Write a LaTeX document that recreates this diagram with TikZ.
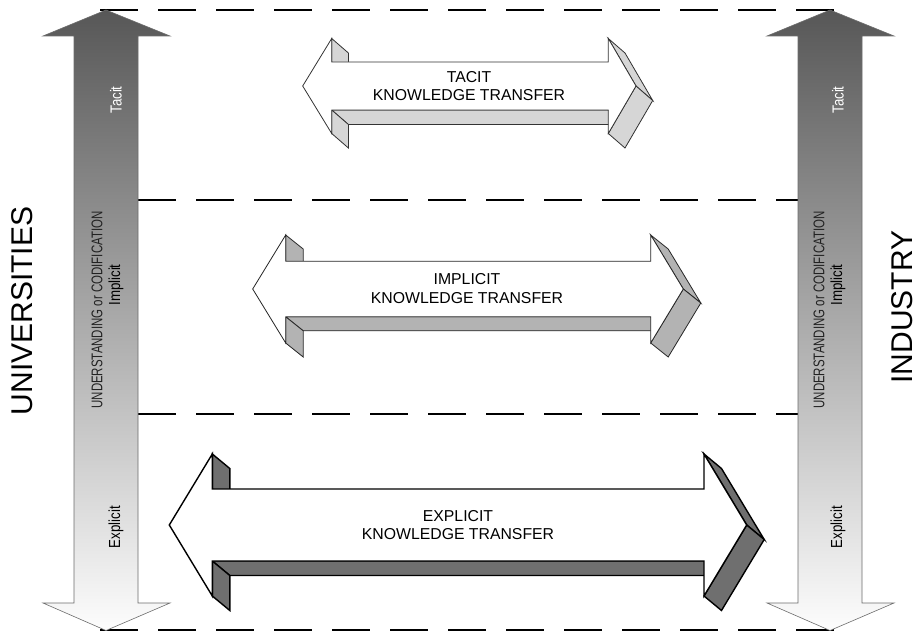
\documentclass[tikz,border=0pt]{standalone}
\usepackage{fontspec}
\setmainfont{Liberation Sans}
\newfontfamily\narrowfont[FakeStretch=0.83]{Liberation Sans}
\newfontfamily\narrowerfont[FakeStretch=0.74]{Liberation Sans}
\definecolor{gtop}{HTML}{575757}
\definecolor{gbot}{HTML}{FDFDFD}
\definecolor{tacitfill}{HTML}{D6D6D6}
\definecolor{implfill}{HTML}{B3B3B3}
\definecolor{explfill}{HTML}{6F6F6F}
\definecolor{understcol}{HTML}{222222}
\tikzset{
  sep/.style={draw=black, line width=1.3pt, dash pattern=on 38pt off 20pt},
  vertarrow/.style={draw=gray!85!black, line width=0.6pt, top color=gtop, bottom color=gbot},
  vlabel/.style={rotate=90, inner sep=0pt, font=\narrowfont\fontsize{16}{18}\selectfont},
  ulabel/.style={rotate=90, inner sep=0pt, font=\narrowerfont\fontsize{15.5}{18}\selectfont},
  biglabel/.style={rotate=90, inner sep=0pt, font=\fontsize{30}{34}\selectfont},
  hlabel/.style={align=center, inner sep=0pt, font=\fontsize{15.8}{18.5}\selectfont},
  face/.style={line join=miter},
}
% 3D double arrow: #1 xl, #2 xa, #3 xb, #4 xr, #5 cy, #6 H, #7 h, #8 dx, #9 dy
\newcommand{\threedarrow}[9]{%
  \draw[face] (#2,{#5+#7}) -- (#3,{#5+#7}) -- ({#3+#8},{#5+#7+#9}) -- ({#2+#8},{#5+#7+#9}) -- cycle;
  \draw[face] (#2,{#5-#6}) -- ({#2+#8},{#5-#6+#9}) -- ({#2+#8},{#5-#7+#9}) -- (#2,{#5-#7}) -- cycle;
  \draw[face] (#2,{#5+#7}) -- ({#2+#8},{#5+#7+#9}) -- ({#2+#8},{#5+#6+#9}) -- (#2,{#5+#6}) -- cycle;
  \draw[face] (#3,{#5-#6}) -- ({#3+#8},{#5-#6+#9}) -- ({#4+#8},{#5+#9}) -- (#4,#5) -- cycle;
  \draw[face] (#4,#5) -- ({#4+#8},{#5+#9}) -- ({#3+#8},{#5+#6+#9}) -- (#3,{#5+#6}) -- cycle;
  \draw[face, fill=white] (#1,#5) -- (#2,{#5-#6}) -- (#2,{#5-#7}) -- (#3,{#5-#7}) -- (#3,{#5-#6})
     -- (#4,#5) -- (#3,{#5+#6}) -- (#3,{#5+#7}) -- (#2,{#5+#7}) -- (#2,{#5+#6}) -- cycle;
}
\begin{document}
\begin{tikzpicture}[x=1pt, y=-1pt]
\useasboundingbox (0,0) rectangle (922,631);
\fill[white] (0,0) rectangle (922,631);

% separators
\draw[sep] (100,10) -- (836,10);
\draw[sep] (138,200) -- (798,200);
\draw[sep] (138,414) -- (798,414);
\draw[sep] (100,630) -- (836,630);

% vertical double arrows
\path[vertarrow] (106,10) -- (170,36) -- (138,36) -- (138,603) -- (170,603) -- (106,630.5)
  -- (43,603) -- (74,603) -- (74,36) -- (43,36) -- cycle;
\path[vertarrow] (830,10) -- (894,36) -- (862,36) -- (862,603) -- (894,603) -- (830,630.5)
  -- (767,603) -- (798,603) -- (798,36) -- (767,36) -- cycle;

% left arrow labels
\node[vlabel, white] (ltacit) at (116,100) {Tacit};
\node[ulabel, understcol] (lund) at (97,310) {UNDERSTANDING or CODIFICATION};
\node[vlabel, black] (limpl) at (116,285) {Implicit};
\node[vlabel, black] (lexpl) at (116,527) {Explicit};
% right arrow labels
\node[vlabel, white] (rtacit) at (838,100) {Tacit};
\node[ulabel, understcol] (rund) at (819,310) {UNDERSTANDING or CODIFICATION};
\node[vlabel, black] (rimpl) at (838,285) {Implicit};
\node[vlabel, black] (rexpl) at (838,527) {Explicit};

% side titles
\node[biglabel] (univ) at (22.5,311) {UNIVERSITIES};
\node[biglabel] (ind) at (902.5,307) {INDUSTRY};

% horizontal 3D arrows
\begin{scope}[every path/.append style={draw=black!80, line width=0.8pt, fill=tacitfill}]
\threedarrow{302.7}{331.7}{608.3}{636}{86}{47.5}{24}{16.7}{14.5}
\end{scope}
\begin{scope}[every path/.append style={draw=black!85, line width=0.8pt, fill=implfill}]
\threedarrow{252.7}{285.7}{650.7}{683.3}{289}{54}{27.8}{17.5}{14}
\end{scope}
\begin{scope}[every path/.append style={draw=black, line width=1.4pt, fill=explfill}]
\threedarrow{169.3}{212.3}{704}{746.7}{525}{71}{36}{17.5}{14.5}
\end{scope}

\node[hlabel] (tacitlbl) at (469,86) {TACIT\\KNOWLEDGE TRANSFER};
\node[hlabel] (impllbl) at (467,288.5) {IMPLICIT\\KNOWLEDGE TRANSFER};
\node[hlabel] (expllbl) at (458,525) {EXPLICIT\\KNOWLEDGE TRANSFER};
\end{tikzpicture}
\end{document}
